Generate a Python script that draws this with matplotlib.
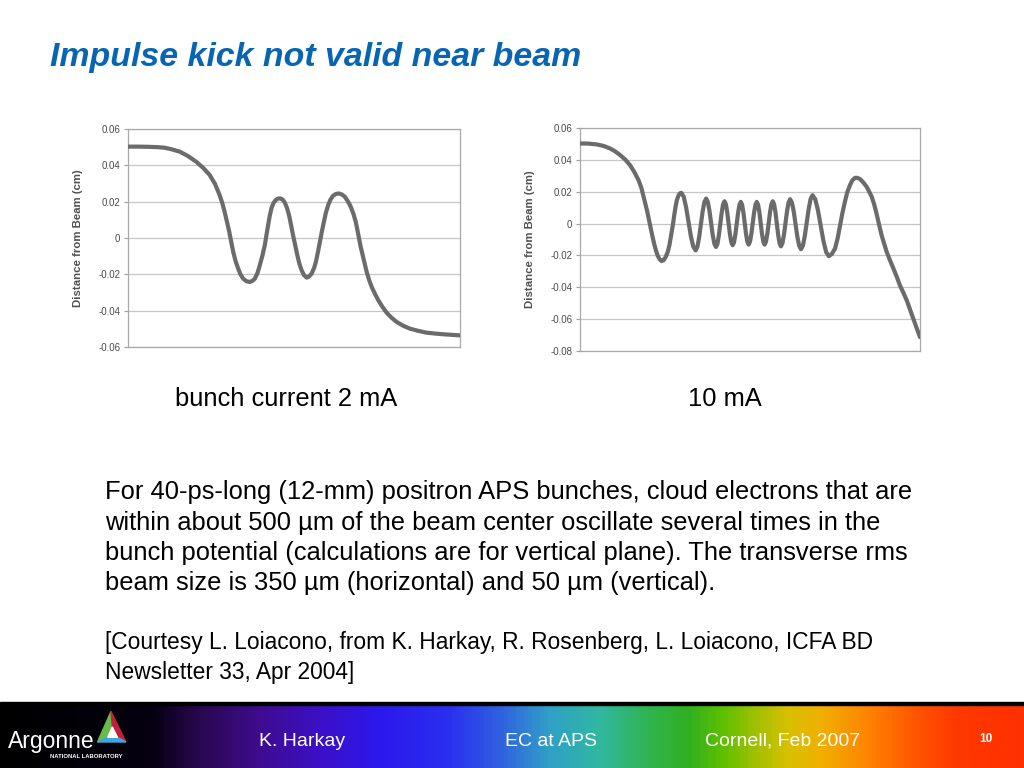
import numpy as np
import matplotlib
matplotlib.use('Agg')
import matplotlib.pyplot as plt
from matplotlib.colors import LinearSegmentedColormap
from matplotlib.patches import Polygon, Rectangle

plt.rcParams['font.family'] = ['Liberation Sans', 'DejaVu Sans']

# ---------------- data ----------------
left_x = [0, 3, 6, 9, 11, 13, 15.6, 18, 20.6, 22.7, 24.6, 26.2, 27.6, 28.4, 29.1, 29.8,
          30.5, 31.1, 31.7, 32.4, 33.2, 33.9, 34.7, 35.7, 36.7, 37.5, 38.2, 39.0, 39.7,
          40.5, 41.2, 41.7, 42.2, 42.7, 43.2, 43.8, 44.5, 45.2, 45.9, 46.6, 47.2, 47.9,
          48.5, 49.1, 49.7, 50.4, 51.0, 51.6, 52.3, 53.0, 53.8, 54.5, 55.3, 56.0, 56.6,
          57.2, 57.8, 58.4, 59.0, 59.6, 60.3, 61.0, 61.8, 62.7, 63.6, 64.5, 65.3, 66.2,
          67.1, 67.9, 68.6, 69.1, 69.6, 70.1, 70.7, 71.3, 71.9, 72.6, 73.4, 74.4, 75.4,
          76.6, 77.9, 79.4, 80.9, 82.9, 84.9, 87.4, 89.9, 92.5, 95.0, 97.5, 100]
left_y = [0.0503, 0.0503, 0.0502, 0.0500, 0.0497, 0.0489, 0.0475, 0.0452, 0.0419, 0.0385,
          0.0347, 0.0298, 0.0236, 0.0192, 0.0144, 0.0090, 0.0034, -0.0022, -0.0077, -0.0127,
          -0.0169, -0.0201, -0.0224, -0.0238, -0.0242, -0.0236, -0.0224, -0.0193, -0.0150,
          -0.0096, -0.0040, 0.0016, 0.0071, 0.0122, 0.0163, 0.0192, 0.0209, 0.0217, 0.0218,
          0.0211, 0.0196, 0.0165, 0.0126, 0.0073, 0.0016, -0.0043, -0.0095, -0.0140, -0.0178,
          -0.0204, -0.0218, -0.0213, -0.0196, -0.0168, -0.0131, -0.0078, -0.0021, 0.0036,
          0.0089, 0.0139, 0.0181, 0.0212, 0.0233, 0.0243, 0.0245, 0.0239, 0.0227, 0.0203,
          0.0172, 0.0133, 0.0089, 0.0044, -0.0003, -0.0050, -0.0095, -0.0142, -0.0187,
          -0.0230, -0.0269, -0.0308, -0.0343, -0.0378, -0.0411, -0.0439, -0.0462, -0.0483,
          -0.0499, -0.0511, -0.0521, -0.0526, -0.0530, -0.0533, -0.0536]

right_x = [0, 2.5, 4.9, 7.0, 8.8, 10.3, 11.8, 13.3, 14.7, 16.0, 17.2, 18.0, 18.6, 19.2,
           19.8, 20.3, 20.8, 21.3, 21.8, 22.3, 22.8, 23.4, 24.0, 24.6, 25.2, 25.8, 26.3,
           26.8, 27.3, 27.7, 28.1, 28.5, 29.0, 29.4, 29.8,
           30.5, 31.2, 31.9, 32.6, 33.3, 34.0,
           34.52, 35.03, 35.55, 36.07, 36.58, 37.1,
           37.58, 38.07, 38.55, 39.03, 39.52, 40.0,
           40.42, 40.83, 41.25, 41.67, 42.08, 42.5,
           42.9, 43.3, 43.7, 44.1, 44.5, 44.9,
           45.3, 45.7, 46.1, 46.5, 46.9, 47.3,
           47.68, 48.07, 48.45, 48.83, 49.22, 49.6,
           50.0, 50.4, 50.8, 51.2, 51.6, 52.0,
           52.38, 52.77, 53.15, 53.53, 53.92, 54.3,
           54.7, 55.1, 55.5, 55.9, 56.3, 56.7,
           57.1, 57.5, 57.9, 58.3, 58.7, 59.1,
           59.55, 60.0, 60.45, 60.9, 61.35, 61.8,
           62.33, 62.87, 63.4, 63.93, 64.47, 65.0,
           65.57, 66.13, 66.7, 67.27, 67.83, 68.4,
           69.2, 70.0, 70.8, 71.6, 72.4, 73.2,
           74.1, 75.0, 75.8, 76.5, 77.2, 77.9, 78.6, 79.4, 80.1, 80.9, 81.6, 82.4, 83.3,
           84.3, 85.0, 85.8, 86.5, 87.1, 87.9, 88.7, 89.5, 90.2, 91.2, 92.2, 93.2, 94.1,
           95.1, 96.1, 97.0, 98.0, 99.0, 100]
right_y = [0.0503, 0.0502, 0.0497, 0.0487, 0.0472, 0.0454, 0.0430, 0.0402, 0.0367, 0.0323,
           0.0273, 0.0228, 0.0178, 0.0126, 0.0073, 0.0021, -0.0031, -0.0080, -0.0126,
           -0.0166, -0.0199, -0.0224, -0.0235, -0.0230, -0.0210, -0.0178, -0.0136, -0.0075,
           -0.0010, 0.0050, 0.0105, 0.0148, 0.0178, 0.0190, 0.0193,
           0.0169, 0.0103, 0.0013, -0.0078, -0.0144, -0.0168,
           -0.0146, -0.0087, -0.0006, 0.0076, 0.0135, 0.0157,
           0.0137, 0.0081, 0.0005, -0.0071, -0.0127, -0.0147,
           -0.0128, -0.0075, -0.0004, 0.0068, 0.0121, 0.0140,
           0.0122, 0.0071, 0.0002, -0.0067, -0.0117, -0.0136,
           -0.0118, -0.0068, 0.0000, 0.0068, 0.0118, 0.0136,
           0.0118, 0.0069, 0.0002, -0.0065, -0.0114, -0.0132,
           -0.0114, -0.0065, 0.0002, 0.0069, 0.0118, 0.0136,
           0.0118, 0.0069, 0.0002, -0.0065, -0.0114, -0.0132,
           -0.0114, -0.0064, 0.0004, 0.0072, 0.0122, 0.0140,
           0.0121, 0.0069, -0.0002, -0.0072, -0.0124, -0.0143,
           -0.0123, -0.0069, 0.0005, 0.0079, 0.0133, 0.0153,
           0.0132, 0.0075, -0.0004, -0.0083, -0.0140, -0.0161,
           -0.0138, -0.0076, 0.0009, 0.0093, 0.0155, 0.0178,
           0.0152, 0.0082, -0.0014, -0.0109, -0.0179, -0.0205,
           -0.0190, -0.0157, -0.0090, -0.0010, 0.0068, 0.0136, 0.0196, 0.0241, 0.0272,
           0.0287, 0.0287, 0.0279, 0.0259, 0.0231, 0.0203, 0.0168, 0.0122, 0.0073, 0.0000,
           -0.0073, -0.0130, -0.0178, -0.0232, -0.0283, -0.0336, -0.0388, -0.0434, -0.0482,
           -0.0536, -0.0597, -0.0655, -0.0713]

left_ticks = [0.06, 0.04, 0.02, 0, -0.02, -0.04, -0.06]
left_tick_labels = ['0.06', '0.04', '0.02', '0', '-0.02', '-0.04', '-0.06']
right_ticks = [0.06, 0.04, 0.02, 0, -0.02, -0.04, -0.06, -0.08]
right_tick_labels = ['0.06', '0.04', '0.02', '0', '-0.02', '-0.04', '-0.06', '-0.08']
y_label = 'Distance from Beam (cm)'

title = 'Impulse kick not valid near beam'
caption_left = 'bunch current 2 mA'
caption_right = '10 mA'
body_lines = ['For 40-ps-long (12-mm) positron APS bunches, cloud electrons that are',
              'within about 500 \u00b5m of the beam center oscillate several times in the',
              'bunch potential (calculations are for vertical plane). The transverse rms',
              'beam size is 350 \u00b5m (horizontal) and 50 \u00b5m (vertical).']
courtesy_lines = ['[Courtesy L. Loiacono, from K. Harkay, R. Rosenberg, L. Loiacono, ICFA BD',
                  'Newsletter 33, Apr 2004]']
footer_items = ['K. Harkay', 'EC at APS', 'Cornell, Feb 2007']
page_number = '10'

# ---------------- figure ----------------
W, H = 1024, 768
fig = plt.figure(figsize=(W / 100, H / 100), dpi=100)
fig.patch.set_facecolor('white')

bg = fig.add_axes([0, 0, 1, 1], zorder=0)
bg.set_xlim(0, W)
bg.set_ylim(H, 0)
bg.axis('off')

# footer gradient bar
grad_stops = [(0, '#000000'), (150, '#050010'), (200, '#2a0850'), (260, '#3e0c90'),
              (320, '#3c10c8'), (380, '#2c18ee'), (450, '#2a30f0'), (500, '#3060e0'),
              (550, '#30a0c8'), (600, '#30b8a0'), (650, '#30b450'), (690, '#30b020'),
              (725, '#60c000'), (757, '#a0c000'), (790, '#d8c000'), (823, '#f0b000'),
              (873, '#ff8000'), (923, '#ff5000'), (960, '#ff3800'), (1024, '#ff3000')]
cmap = LinearSegmentedColormap.from_list('footer', [(p / 1024, c) for p, c in grad_stops])
bg.imshow(np.linspace(0, 1, 1024)[None, :], extent=(0, W, H, 705), aspect='auto',
          cmap=cmap, zorder=1)
bg.add_patch(Rectangle((0, 701.5), W, 3.8, color='black', zorder=2))

# Argonne logo triangle
A = np.array([111, 711.5]); B = np.array([97.5, 742]); C = np.array([126, 742])
cen = (A + B + C) / 3 + np.array([1.5, 3])
a = cen + 0.34 * (A - cen); b = cen + 0.34 * (B - cen); c = cen + 0.34 * (C - cen)
bg.add_patch(Polygon([A, B, b, a], closed=True, color='#66bc48', zorder=3))
bg.add_patch(Polygon([A, a, c, C], closed=True, color='#c4203c', zorder=3))
bg.add_patch(Polygon([B, C, c, b], closed=True, color='#40a6de', zorder=3))
bg.add_patch(Polygon([a, b, c], closed=True, color='white', zorder=4))
bg.text(8, 748, 'Argonne', fontsize=16.5, color='white', va='baseline', ha='left', zorder=5)
bg.text(50, 757.5, 'NATIONAL LABORATORY', fontsize=4.2, fontweight='bold', color='white',
        va='baseline', ha='left', zorder=5)

# footer texts
for xpos, txt in zip([259, 505, 705], footer_items):
    bg.text(xpos, 746, txt, fontsize=14, color='white', va='baseline', ha='left', zorder=5)
bg.text(979, 742, page_number, fontsize=8.5, fontweight='bold', color='white',
        va='baseline', ha='left', zorder=5)

# title and texts
bg.text(50, 66, title, fontsize=24.4, fontweight='bold', fontstyle='italic',
        color='#0865b2', va='baseline', ha='left')
bg.text(175, 406, caption_left, fontsize=18.4, color='black', va='baseline', ha='left')
bg.text(688, 406, caption_right, fontsize=18.4, color='black', va='baseline', ha='left')
for i, line in enumerate(body_lines):
    bg.text(105, 499.5 + 30.3 * i, line, fontsize=18.35, color='black', va='baseline', ha='left')
for i, line in enumerate(courtesy_lines):
    bg.text(105, 649 + 30 * i, line, fontsize=16.4, color='black', va='baseline', ha='left')


def make_chart(px_left, px_right, px_top, px_bottom, xs, ys, ticks, labels, label_x):
    rect = [px_left / W, 1 - px_bottom / H, (px_right - px_left) / W, (px_bottom - px_top) / H]
    ax = fig.add_axes(rect, zorder=2)
    ax.set_facecolor('none')
    ax.plot(xs, ys, color='#6b6b6b', lw=3.0, solid_joinstyle='round',
            solid_capstyle='round', zorder=3)
    ax.set_xlim(0, 100)
    ax.set_ylim(ticks[-1], ticks[0])
    ax.set_xticks([])
    ax.set_yticks(ticks)
    ax.set_yticklabels(labels, fontsize=7, color='#4a4a4a')
    ax.grid(axis='y', color='#c6c6c6', lw=0.9, zorder=1)
    for s in ax.spines.values():
        s.set_color('#a8a8a8')
        s.set_linewidth(0.9)
    ax.tick_params(axis='y', length=3, width=0.8, color='#a0a0a0', pad=2.5)
    ax.set_ylabel(y_label, fontsize=8.2, fontweight='bold', color='#505050')
    ax.yaxis.set_label_coords(label_x, 0.5)
    return ax


make_chart(128, 460, 129, 347, left_x, left_y, left_ticks, left_tick_labels, -0.136)
make_chart(580, 920, 128, 351, right_x, right_y, right_ticks, right_tick_labels, -0.132)

fig.savefig('out.png', dpi=100, facecolor='white')
